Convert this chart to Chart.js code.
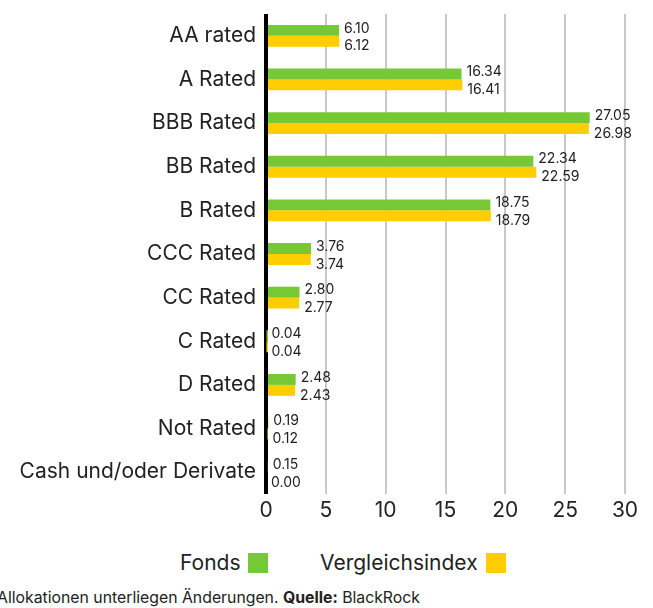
<!DOCTYPE html>
<html>
<head>
<meta charset="utf-8">
<script src="https://cdn.jsdelivr.net/npm/chart.js@4"></script>
<style>
    html, body { margin: 0; padding: 0; background: #fff; }
    body { width: 653px; height: 608px; position: relative; overflow: hidden; font-family: Inter, "Noto Sans", sans-serif; color: #222; }
    #wrap { position: absolute; left: 0; top: 0; width: 653px; height: 540px; }
    .legend { position: absolute; top: 550px; left: 0; width: 653px; height: 26px; font-size: 21px; }
    .legend span { position: absolute; top: 0; line-height: 26px; }
    .legend i { position: absolute; top: 3px; width: 20px; height: 20px; }
    .footer { position: absolute; left: -3px; top: 588px; font-size: 15.8px; line-height: 20px; white-space: nowrap; }
</style>
</head>
<body>
<div id="wrap"><canvas id="chart-ratings"></canvas></div>
<div class="legend">
    <span style="left:180px">Fonds</span><i style="left:248px;background:#76c935"></i>
    <span style="left:320px">Vergleichsindex</span><i style="left:486px;background:#ffcd00"></i>
</div>
<div class="footer">Allokationen unterliegen Änderungen. <b>Quelle:</b> BlackRock</div>
<script>
// credit rating allocation, fund vs benchmark
const categories = ['AA rated', 'A Rated', 'BBB Rated', 'BB Rated', 'B Rated', 'CCC Rated', 'CC Rated', 'C Rated', 'D Rated', 'Not Rated', 'Cash und/oder Derivate'];
const fondsValues = [6.10, 16.34, 27.05, 22.34, 18.75, 3.76, 2.80, 0.04, 2.48, 0.19, 0.15];
const indexValues = [6.12, 16.41, 26.98, 22.59, 18.79, 3.74, 2.77, 0.04, 2.43, 0.12, 0.00];
const xTicks = [0, 5, 10, 15, 20, 25, 30];

const GREEN = '#76c935';
const YELLOW = '#ffcd00';
const FONT = 'Inter, "Noto Sans", sans-serif';

const valueLabelPlugin = {
    id: 'valueLabels',
    afterDatasetsDraw(chart) {
        const { ctx } = chart;
        ctx.save();
        ctx.font = '14px ' + FONT;
        ctx.fillStyle = '#222';
        ctx.textAlign = 'left';
        ctx.textBaseline = 'middle';
        chart.data.datasets.forEach((ds, di) => {
            const meta = chart.getDatasetMeta(di);
            meta.data.forEach((bar, i) => {
                const dy = di === 0 ? -2 : 5;
                ctx.fillText(ds.data[i].toFixed(2), bar.x + 5, bar.y + dy);
            });
        });
        ctx.restore();
    },
};

const ctx = document.getElementById('chart-ratings').getContext('2d');
new Chart(ctx, {
    type: 'bar',
    data: {
        labels: categories,
        datasets: [
            { label: 'Fonds', data: fondsValues, backgroundColor: GREEN },
            { label: 'Vergleichsindex', data: indexValues, backgroundColor: YELLOW },
        ],
    },
    plugins: [valueLabelPlugin],
    options: {
        indexAxis: 'y',
        responsive: true,
        maintainAspectRatio: false,
        animation: false,
        layout: { padding: { top: 14, right: 28, bottom: 0, left: 0 } },
        datasets: { bar: { categoryPercentage: 0.5, barPercentage: 1.0 } },
        plugins: { legend: { display: false }, tooltip: { enabled: false } },
        scales: {
            x: {
                min: 0,
                max: 30,
                afterBuildTicks: s => { s.ticks = xTicks.map(v => ({ value: v })); },
                afterFit: s => { s.height = 46; s.paddingLeft = 0; s.paddingRight = 0; },
                border: { display: false },
                grid: {
                    drawTicks: false,
                    color: c => (c.tick && c.tick.value === 0 ? '#000' : '#c8c8c8'),
                    lineWidth: c => (c.tick && c.tick.value === 0 ? 4 : 2),
                },
                ticks: { padding: 4, color: '#222', font: { family: FONT, size: 21 } },
            },
            y: {
                afterFit: s => { s.width = 266; s.paddingTop = 0; s.paddingBottom = 0; },
                border: { display: false },
                grid: { display: false, drawTicks: false },
                ticks: { padding: 10, color: '#222', font: { family: FONT, size: 21 } },
            },
        },
    },
});
</script>
</body>
</html>
